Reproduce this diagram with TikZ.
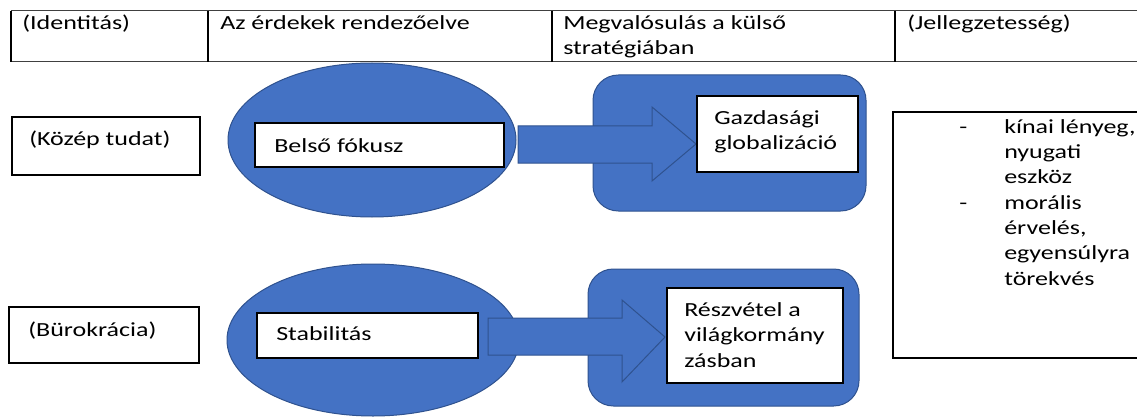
\documentclass[tikz,border=0pt]{standalone}
\usepackage{fontspec}
\setmainfont{Carlito}[FakeStretch=1.3]
\definecolor{blueF}{HTML}{4472C4}
\definecolor{blueD}{HTML}{2F528F}
\begin{document}
\begin{tikzpicture}[x=0.75pt,y=-0.75pt,
  blueshape/.style={fill=blueF, draw=blueD, line width=0.75pt},
  tbox/.style={draw=black, line width=1pt, fill=white},
  txt/.style={anchor=base west, inner sep=0pt, align=left, font=\fontsize{15pt}{19pt}\selectfont},
  hline/.style={draw=black!75, line width=0.75pt},
  vline/.style={draw=black, line width=1.5pt}]
\useasboundingbox (0,0) rectangle (1137,417);
\fill[white] (0,0) rectangle (1137,417);
% header table
\draw[hline] (11,11) -- (1137,11);
\draw[hline] (11,62) -- (1137,62);
\foreach \xx in {11,208,552,895} \draw[vline] (\xx,11) -- (\xx,62);
\node[txt] (h1) at (22,30) {(Identitás)};
\node[txt] (h2) at (220,30) {Az érdekek rendezőelve};
\node[txt] (h3) at (563,55) {Megvalósulás a külső\\stratégiában};
\node[txt] (h4) at (907,30) {(Jellegzetesség)};
% row 1
\draw[tbox] (12,117) rectangle (200,175);
\node[txt] (kozep) at (29,146) {(Közép tudat)};
\draw[blueshape] (372,140) ellipse [x radius=144, y radius=77];
\draw[blueshape, rounded corners=19pt] (593,75) rectangle (866,211);
\draw[blueshape] (518,126) -- (652,126) -- (652,107) -- (696,144) -- (652,181) -- (652,163) -- (518,163) -- cycle;
\draw[tbox] (255,123) rectangle (504,167);
\node[txt] (belso) at (274,152) {Belső fókusz};
\draw[tbox] (697,96) rectangle (858,172);
\node[txt] (gazd) at (714,150) {Gazdasági\\globalizáció};
% right box
\draw[tbox] (1142,112) -- (893,112) -- (893,358) -- (1142,358);
\node[txt] (jelleg) at (959,285) {\makebox[33.75pt][l]{-}kínai lényeg,\\\makebox[33.75pt]{}nyugati\\\makebox[33.75pt]{}eszköz\\\makebox[33.75pt][l]{-}morális\\\makebox[33.75pt]{}érvelés,\\\makebox[33.75pt]{}egyensúlyra\\\makebox[33.75pt]{}törekvés};
% row 2
\draw[tbox] (9,307) rectangle (199,363);
\node[txt] (burok) at (28,336) {(Bürokrácia)};
\draw[blueshape] (373,340) ellipse [x radius=146, y radius=76];
\draw[blueshape, rounded corners=19pt] (588,269) rectangle (859,406);
\draw[blueshape] (488,318) -- (622,318) -- (622,300) -- (665,337) -- (622,382) -- (622,355) -- (488,355) -- cycle;
\draw[tbox] (257,313) rectangle (478,358);
\node[txt] (stab) at (276,340) {Stabilitás};
\draw[tbox] (667,288) rectangle (843,383);
\node[txt] (resz) at (684,367) {Részvétel a\\világkormány\\zásban};
\end{tikzpicture}
\end{document}
